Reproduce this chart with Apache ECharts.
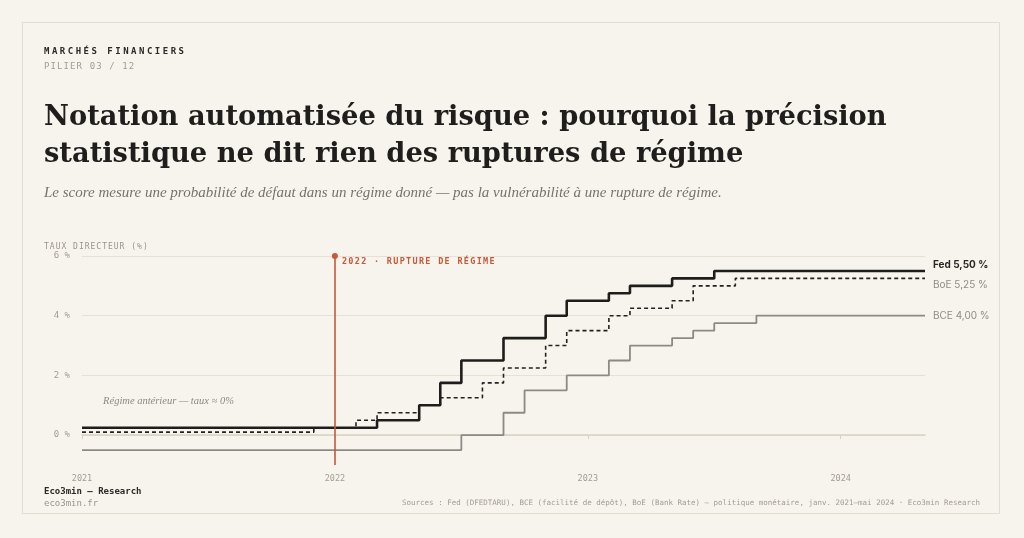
<!DOCTYPE html>
<html lang="fr">
<head>
<meta charset="utf-8">
<title>Notation automatisée du risque</title>
<script src="https://cdn.jsdelivr.net/npm/echarts@6/dist/echarts.min.js"></script>
<style>
  html, body { margin: 0; padding: 0; background: #f7f4ee; }
  #page { position: relative; width: 1024px; height: 538px; overflow: hidden; }
  #card { position: absolute; left: 22px; top: 22px; width: 978px; height: 492px; border: 1px solid #e3ddcf; box-sizing: border-box; }
  #chart { position: absolute; left: 0; top: 0; width: 1024px; height: 538px; }
  .t { position: absolute; white-space: nowrap; margin: 0; }
  .mono { font-family: "DejaVu Sans Mono", "Liberation Mono", monospace; }
  .serif { font-family: "Liberation Serif", "DejaVu Serif", serif; }
  #kicker { left: 44px; top: 46px; font-size: 9px; line-height: 10px; font-weight: bold; letter-spacing: 2.5px; color: #2b2a27; }
  #pilier { left: 44px; top: 61px; font-size: 9px; line-height: 10px; letter-spacing: 1.1px; color: #a29d92; }
  #title { left: 44px; top: 97px; font-family: "DejaVu Serif", serif; font-size: 27px; line-height: 37px; font-weight: bold; color: #1f1e1c; }
  #subtitle { left: 44px; top: 182px; font-size: 15px; line-height: 20px; font-style: italic; color: #77736b; }
  #ylab { left: 44px; top: 242px; font-size: 8px; line-height: 9px; letter-spacing: 1px; color: #9a958a; }
  #rupture { font-size: 8.5px; line-height: 10px; letter-spacing: 1.3px; color: #c4593b; font-weight: bold; }
  #brand { left: 44px; top: 486px; font-size: 9px; line-height: 10px; font-weight: bold; color: #2b2a27; }
  #site { left: 44px; top: 498px; font-size: 9px; line-height: 10px; color: #9a958a; }
  #sources { right: 44px; top: 498px; font-size: 7.5px; line-height: 10px; color: #a29d92; }
</style>
</head>
<body>
<div id="page">
  <div id="card"></div>
  <div id="chart"></div>
  <div id="kicker" class="t mono">MARCHÉS FINANCIERS</div>
  <div id="pilier" class="t mono">PILIER 03 / 12</div>
  <div id="title" class="t"><span id="title1">Notation automatisée du risque : pourquoi la précision</span><br>statistique ne dit rien des ruptures de régime</div>
  <div id="subtitle" class="t serif">Le score mesure une probabilité de défaut dans un régime donné — pas la vulnérabilité à une rupture de régime.</div>
  <div id="ylab" class="t mono">TAUX DIRECTEUR (%)</div>
  <div id="rupture" class="t mono">2022 · RUPTURE DE RÉGIME</div>
  <div id="brand" class="t mono">Eco3min — Research</div>
  <div id="site" class="t mono">eco3min.fr</div>
  <div id="sources" class="t mono">Sources : Fed (DFEDTARU), BCE (facilité de dépôt), BoE (Bank Rate) — politique monétaire, janv. 2021–mai 2024 · Eco3min Research</div>
</div>
<script>
// monthly observations, janv. 2021 -> mai 2024 (41 months)
var startYear = 2021;
var monthCount = 41;

var fedRates = [
  0.25, 0.25, 0.25, 0.25, 0.25, 0.25, 0.25, 0.25, 0.25, 0.25, 0.25, 0.25,
  0.25, 0.25, 0.50, 0.50, 1.00, 1.75, 2.50, 2.50, 3.25, 3.25, 4.00, 4.50,
  4.50, 4.75, 5.00, 5.00, 5.25, 5.25, 5.50, 5.50, 5.50, 5.50, 5.50, 5.50,
  5.50, 5.50, 5.50, 5.50, 5.50
];
var boeRates = [
  0.10, 0.10, 0.10, 0.10, 0.10, 0.10, 0.10, 0.10, 0.10, 0.10, 0.10, 0.25,
  0.25, 0.50, 0.75, 0.75, 1.00, 1.25, 1.25, 1.75, 2.25, 2.25, 3.00, 3.50,
  3.50, 4.00, 4.25, 4.25, 4.50, 5.00, 5.00, 5.25, 5.25, 5.25, 5.25, 5.25,
  5.25, 5.25, 5.25, 5.25, 5.25
];
var bceRates = [
  -0.50, -0.50, -0.50, -0.50, -0.50, -0.50, -0.50, -0.50, -0.50, -0.50, -0.50, -0.50,
  -0.50, -0.50, -0.50, -0.50, -0.50, -0.50, 0.00, 0.00, 0.75, 1.50, 1.50, 2.00,
  2.00, 2.50, 3.00, 3.00, 3.25, 3.50, 3.75, 3.75, 4.00, 4.00, 4.00, 4.00,
  4.00, 4.00, 4.00, 4.00, 4.00
];

var yearTicks = [2021, 2022, 2023, 2024];
var ruptureYear = 2022;
var annotationText = 'Régime antérieur — taux ≈ 0%';
var annotationAt = [2021 + 1 / 12, 1.1];

// decimal year for each month
var monthX = [];
for (var i = 0; i < monthCount; i++) monthX.push(startYear + i / 12);

function pairs(values) {
  return values.map(function (v, i) { return [monthX[i], v]; });
}

function frPct(v) {
  return v.toFixed(2).replace('.', ',') + ' %';
}

// fit the title's first line to the measured width of the original (~843px)
(function fitTitle() {
  var ctx = document.createElement('canvas').getContext('2d');
  ctx.font = 'bold 100px "DejaVu Serif"';
  var w = ctx.measureText(document.getElementById('title1').textContent).width;
  if (w > 0) {
    var fs = Math.min(30, Math.max(24, 100 * 843 / w));
    document.getElementById('title').style.fontSize = fs.toFixed(2) + 'px';
  }
})();

var monoFont = '"DejaVu Sans Mono", "Liberation Mono", monospace';
var sansFont = 'Inter, "Noto Sans", sans-serif';

var chartDom = document.getElementById('chart');
var myChart = echarts.init(chartDom, null, { renderer: 'canvas' });

var option = {
  animation: false,
  backgroundColor: 'transparent',
  grid: { left: 82, right: 99, top: 256, bottom: 73, containLabel: false },
  xAxis: {
    type: 'value',
    min: startYear,
    max: monthX[monthCount - 1],
    interval: 1,
    axisLine: { show: true, lineStyle: { color: '#d8d2c4', width: 1.5 } },
    axisTick: { show: true, length: 4, customValues: yearTicks, lineStyle: { color: '#d8d2c4' } },
    axisLabel: {
      customValues: yearTicks,
      formatter: function (v) { return String(Math.round(v)); },
      color: '#a29d92', fontFamily: monoFont, fontSize: 8.5, margin: 9
    },
    splitLine: { show: false }
  },
  yAxis: {
    type: 'value',
    min: -1,
    max: 6,
    interval: 1,
    axisLine: { show: false },
    axisTick: { show: false },
    axisLabel: {
      formatter: function (v) { return (v >= 0 && v % 2 === 0) ? v + ' %' : ''; },
      color: '#a29d92', fontFamily: monoFont, fontSize: 9, margin: 12
    },
    splitLine: { show: true, lineStyle: { color: ['rgba(0,0,0,0)', '#e6e1d5'], width: 1 } }
  },
  series: [
    {
      name: 'BCE', type: 'line', step: 'end', showSymbol: false, symbol: 'none',
      data: pairs(bceRates),
      lineStyle: { color: '#8c8a86', width: 1.8 },
      endLabel: {
        show: true, distance: 8, offset: [0, 0],
        formatter: function (p) { return p.seriesName + ' ' + frPct(p.value[1]); },
        color: '#8f8c86', fontFamily: sansFont, fontSize: 10
      }
    },
    {
      name: 'BoE', type: 'line', step: 'end', showSymbol: false, symbol: 'none',
      data: pairs(boeRates),
      lineStyle: { color: '#232220', width: 1.6, type: [4, 3] },
      endLabel: {
        show: true, distance: 8, offset: [0, 7],
        formatter: function (p) { return p.seriesName + ' ' + frPct(p.value[1]); },
        color: '#8f8c86', fontFamily: sansFont, fontSize: 10
      }
    },
    {
      name: 'Fed', type: 'line', step: 'end', showSymbol: false, symbol: 'none',
      data: pairs(fedRates),
      lineStyle: { color: '#1e1d1b', width: 2.6 },
      endLabel: {
        show: true, distance: 8, offset: [0, -6],
        formatter: function (p) { return p.seriesName + ' ' + frPct(p.value[1]); },
        color: '#2a2926', fontFamily: sansFont, fontSize: 10, fontWeight: 'bold'
      },
      markLine: {
        silent: true,
        symbol: ['none', 'circle'],
        symbolSize: 6,
        label: { show: false },
        lineStyle: { color: '#c4593b', width: 1.6, type: 'solid' },
        data: [{ xAxis: ruptureYear }]
      }
    }
  ]
};

myChart.setOption(option);

// annotation anchored in data space
var annPx = myChart.convertToPixel({ xAxisIndex: 0, yAxisIndex: 0 }, annotationAt);
myChart.setOption({
  graphic: [{
    type: 'text', left: annPx[0], top: annPx[1] - 7, silent: true,
    style: {
      text: annotationText, fill: '#8e8a82',
      font: 'italic 10.5px "Liberation Serif", "DejaVu Serif", serif'
    }
  }]
});

// rupture label next to the top of the marker line
var rupPx = myChart.convertToPixel({ xAxisIndex: 0, yAxisIndex: 0 }, [ruptureYear, 6]);
var rup = document.getElementById('rupture');
rup.style.left = (rupPx[0] + 7) + 'px';
rup.style.top = (rupPx[1] + 0) + 'px';
</script>
</body>
</html>
